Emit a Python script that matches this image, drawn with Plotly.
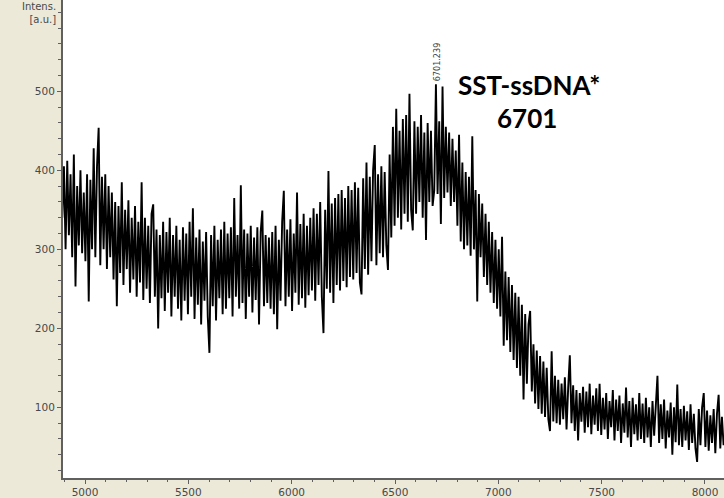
import plotly.graph_objects as go

mass_start = 4890
mass_step = 8

intensity = [
    # 4890 - 5082
    340, 405, 300, 412, 318, 395, 290, 420, 253, 380, 305, 400, 295, 372, 285, 395, 234, 388, 300, 428, 290, 405, 454, 280, 392,
    # 5090 - 5282
    300, 395, 275, 380, 290, 372, 262, 360, 228, 355, 270, 385, 255, 350, 275, 362, 245, 340, 262, 355, 240, 335, 258, 385, 236,
    # 5290 - 5482
    340, 250, 330, 232, 345, 357, 240, 325, 200, 318, 238, 335, 222, 322, 245, 340, 215, 318, 240, 330, 225, 312, 210, 328, 235,
    # 5490 - 5682
    320, 218, 335, 240, 352, 212, 315, 230, 325, 205, 310, 235, 322, 215, 169, 318, 228, 330, 210, 312, 238, 325, 218, 335, 225,
    # 5690 - 5882
    320, 238, 328, 215, 365, 240, 318, 225, 381, 232, 325, 212, 320, 240, 330, 220, 315, 236, 328, 205, 322, 349, 228, 318, 232,
    # 5890 - 6082
    315, 225, 322, 218, 330, 199, 312, 235, 335, 374, 228, 325, 240, 338, 222, 320, 245, 372, 230, 332, 238, 345, 226, 330, 242,
    # 6090 - 6282
    340, 248, 352, 235, 345, 255, 360, 240, 194, 350, 250, 399, 245, 358, 232, 365, 255, 370, 248, 375, 260, 365, 252, 380, 265,
    # 6290 - 6482
    375, 262, 385, 270, 378, 258, 243, 390, 275, 410, 268, 392, 285, 400, 432, 280, 395, 295, 405, 290, 398, 305, 274, 420, 315,
    # 6490 - 6682
    455, 330, 478, 340, 450, 325, 465, 345, 470, 335, 497, 350, 324, 462, 345, 455, 360, 470, 340, 448, 312, 460, 360, 450, 355,
    # 6690 - 6882
    375, 509, 370, 462, 332, 506, 365, 455, 372, 448, 355, 440, 360, 425, 330, 445, 310, 410, 300, 398, 305, 392, 292, 443, 300,
    # 6890 - 7082
    375, 234, 370, 290, 358, 265, 345, 255, 335, 245, 322, 232, 312, 225, 300, 215, 316, 178, 272, 185, 265, 170, 255, 160, 245,
    # 7090 - 7282
    150, 240, 140, 230, 110, 218, 130, 205, 222, 120, 180, 105, 172, 98, 165, 92, 158, 88, 150, 85, 70, 171, 82, 140, 80,
    # 7290 - 7482
    135, 78, 130, 85, 138, 72, 125, 166, 80, 128, 70, 122, 58, 118, 82, 126, 68, 120, 75, 130, 66, 115, 78, 124, 70,
    # 7490 - 7682
    130, 65, 112, 72, 118, 60, 108, 75, 122, 58, 110, 70, 115, 55, 105, 68, 125, 62, 108, 50, 112, 66, 104, 58, 118,
    # 7690 - 7882
    60, 105, 55, 112, 62, 100, 50, 108, 64, 98, 140, 55, 104, 60, 110, 48, 96, 62, 106, 40, 100, 56, 129, 52, 98,
    # 7890 - 8090
    50, 102, 58, 95, 46, 104, 55, 92, 48, 31, 98, 52, 100, 118, 50, 96, 45, 90, 55, 98, 42, 92, 116, 48, 88, 52,
]
mass = [mass_start + mass_step * i for i in range(len(intensity))]

x_ticks = [5000, 5500, 6000, 6500, 7000, 7500, 8000]
y_ticks = [100, 200, 300, 400, 500]

peak_mass = 6701.239
peak_label = "6701.239"
peak_height = 509
title_line1 = "SST-ssDNA*"
title_line2 = "6701"

fig = go.Figure()
fig.add_trace(go.Scatter(
    x=mass, y=intensity, mode="lines",
    line=dict(color="black", width=1.9),
    hoverinfo="skip", showlegend=False,
))

axis_color = "#606060"
tick_font = dict(family="DejaVu Sans, Verdana, sans-serif", size=10.5, color="#484848")

fig.update_layout(
    width=724, height=498,
    margin=dict(l=63, r=0, t=0, b=14, pad=0),
    paper_bgcolor="#ECE9D8",
    plot_bgcolor="white",
    showlegend=False,
    xaxis=dict(
        range=[4893.5, 8092], tickvals=x_ticks, ticktext=[str(v) for v in x_ticks],
        ticks="outside", ticklen=4, tickcolor=axis_color, tickwidth=1,
        minor=dict(dtick=100, ticks="outside", ticklen=2, tickcolor=axis_color),
        showgrid=False, zeroline=False, showline=True, linecolor=axis_color, linewidth=2,
        tickfont=tick_font, ticklabelstandoff=-1,
    ),
    yaxis=dict(
        range=[10.6, 615.6], tickvals=y_ticks, ticktext=[str(v) for v in y_ticks],
        ticks="outside", ticklen=4, tickcolor=axis_color, tickwidth=1,
        minor=dict(dtick=20, ticks="outside", ticklen=3, tickcolor=axis_color),
        showgrid=False, zeroline=False, showline=True, linecolor=axis_color, linewidth=2,
        tickfont=tick_font,
    ),
)

# axis title in the top-left corner
fig.add_annotation(
    xref="paper", yref="paper", x=0, y=1, xanchor="right", yanchor="top",
    xshift=-5, yshift=1, showarrow=False, align="right",
    text="Intens.<br>[a.u.]",
    font=dict(family="DejaVu Sans, Verdana, sans-serif", size=10, color="#484848"),
)

# peak label (vertical)
fig.add_annotation(
    x=peak_mass, y=peak_height, xref="x", yref="y",
    text=peak_label, textangle=-90, showarrow=False,
    xanchor="center", yanchor="bottom", yshift=1,
    font=dict(family="DejaVu Sans Condensed, DejaVu Sans, sans-serif", size=9, color="#404040"),
)

# compound label
fig.add_annotation(
    xref="paper", yref="paper", x=(529 - 63) / 661, y=(484 - 86) / 484,
    xanchor="center", yanchor="middle", showarrow=False,
    text="<b>" + title_line1 + "</b>",
    font=dict(family="Lato, Roboto, sans-serif", size=26, color="black"),
)
fig.add_annotation(
    xref="paper", yref="paper", x=(527 - 63) / 661, y=(484 - 119) / 484,
    xanchor="center", yanchor="middle", showarrow=False,
    text="<b>" + title_line2 + "</b>",
    font=dict(family="Lato, Roboto, sans-serif", size=26, color="black"),
)

fig.write_html("out.html")
